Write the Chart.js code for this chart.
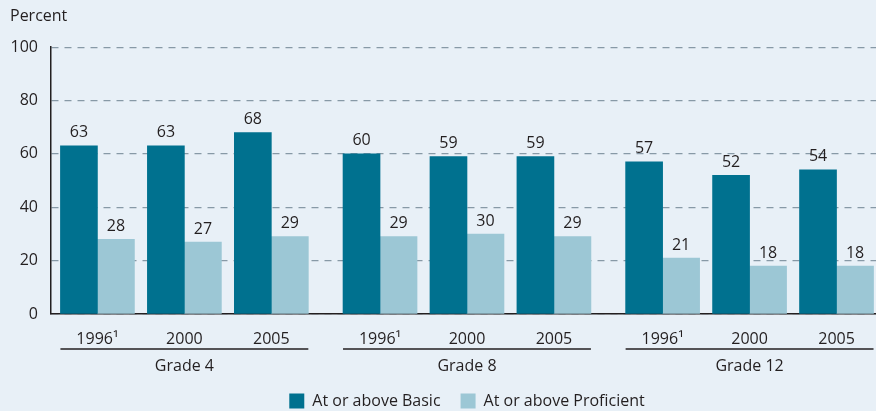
<!DOCTYPE html>
<html>
<head>
<meta charset="utf-8">
<script src="https://cdn.jsdelivr.net/npm/chart.js@4.4.1/dist/chart.umd.min.js"></script>
<style>
    html, body { margin: 0; padding: 0; background: #e8f0f7; }
    #wrap { width: 876px; height: 411px; }
</style>
</head>
<body>
<div id="wrap"><canvas id="scoresChart" width="876" height="411"></canvas></div>
<script>
// Chart data
const grades = ['Grade 4', 'Grade 8', 'Grade 12'];
const yearLabels = ['1996\u00b9', '2000', '2005', '1996\u00b9', '2000', '2005', '1996\u00b9', '2000', '2005'];
const atOrAboveBasic = [63, 63, 68, 60, 59, 59, 57, 52, 54];
const atOrAboveProficient = [28, 27, 29, 29, 30, 29, 21, 18, 18];
const yTicks = [0, 20, 40, 60, 80, 100];

const colors = {
    dark: '#00718f',
    light: '#9cc7d5',
    text: '#231f20',
    grid: '#8799a6'
};
const fontFamily = '"Open Sans", sans-serif';
const barWidth = 37;

// x position of each year: years of one grade sit side by side, a wider gap between grades
const xPos = yearLabels.map((_, i) => 1 + i + Math.floor(i / 3) * 0.25);

// value labels above bars
const valueLabels = {
    id: 'valueLabels',
    afterDatasetsDraw(chart) {
        const ctx = chart.ctx;
        ctx.save();
        ctx.font = '16px ' + fontFamily;
        ctx.fillStyle = colors.text;
        ctx.textAlign = 'center';
        ctx.textBaseline = 'bottom';
        chart.data.datasets.forEach((ds, di) => {
            chart.getDatasetMeta(di).data.forEach((bar, i) => {
                ctx.fillText(ds.data[i].y, bar.x, bar.y - 5);
            });
        });
        ctx.restore();
    }
};

// grade brackets under the year labels
const gradeLabels = {
    id: 'gradeLabels',
    afterLayout(chart) {
        // legend is centred on the plot area, not the canvas
        chart.legend.left += 48;
    },
    afterDraw(chart) {
        const ctx = chart.ctx;
        const x = chart.scales.x;
        ctx.save();
        ctx.strokeStyle = colors.text;
        ctx.lineWidth = 1.5;
        ctx.fillStyle = colors.text;
        ctx.font = '16px ' + fontFamily;
        ctx.textAlign = 'center';
        ctx.textBaseline = 'middle';
        grades.forEach((g, gi) => {
            const x0 = x.getPixelForValue(xPos[gi * 3]) - barWidth;
            const x1 = x.getPixelForValue(xPos[gi * 3 + 2]) + barWidth;
            ctx.beginPath();
            ctx.moveTo(x0, 349);
            ctx.lineTo(x1, 349);
            ctx.stroke();
            ctx.fillText(g, (x0 + x1) / 2, 366);
        });
        ctx.restore();
    }
};

Chart.defaults.font.family = fontFamily;
Chart.defaults.font.size = 16;
Chart.defaults.color = colors.text;

new Chart(document.getElementById('scoresChart'), {
    type: 'bar',
    data: {
        datasets: [{
            label: 'At or above Basic',
            data: atOrAboveBasic.map((v, i) => ({x: xPos[i], y: v})),
            backgroundColor: colors.dark,
            barThickness: barWidth
        }, {
            label: 'At or above Proficient',
            data: atOrAboveProficient.map((v, i) => ({x: xPos[i], y: v})),
            backgroundColor: colors.light,
            barThickness: barWidth
        }]
    },
    options: {
        responsive: false,
        animation: false,
        layout: {
            padding: {left: 10, right: 0, top: 0, bottom: -8}
        },
        scales: {
            x: {
                type: 'linear',
                offset: false,
                min: 0.466,
                max: 9.954,
                afterBuildTicks(scale) {
                    scale.ticks = xPos.map(v => ({value: v}));
                },
                afterFit(scale) {
                    scale.height = 59;
                },
                ticks: {
                    autoSkip: false,
                    maxRotation: 0,
                    padding: 8,
                    callback: (value, index) => yearLabels[index]
                },
                grid: {
                    display: false
                },
                border: {
                    display: true,
                    color: colors.text,
                    width: 1.5
                }
            },
            y: {
                min: 0,
                max: 100,
                afterBuildTicks(scale) {
                    scale.ticks = yTicks.map(v => ({value: v}));
                },
                afterFit(scale) {
                    scale.width = 41;
                },
                ticks: {
                    padding: 13
                },
                grid: {
                    color: colors.grid,
                    lineWidth: 1.2,
                    drawTicks: false
                },
                border: {
                    display: true,
                    color: colors.text,
                    width: 1.5,
                    dash: [7, 6]
                }
            }
        },
        plugins: {
            title: {
                display: true,
                text: 'Percent',
                align: 'start',
                color: colors.text,
                font: {size: 16, weight: 'normal'},
                padding: {top: 7, bottom: 21}
            },
            legend: {
                position: 'bottom',
                labels: {
                    boxWidth: 15,
                    boxHeight: 15,
                    padding: 20,
                    color: colors.text,
                    font: {size: 16}
                }
            },
            tooltip: {
                enabled: false
            }
        }
    },
    plugins: [valueLabels, gradeLabels]
});
</script>
</body>
</html>
